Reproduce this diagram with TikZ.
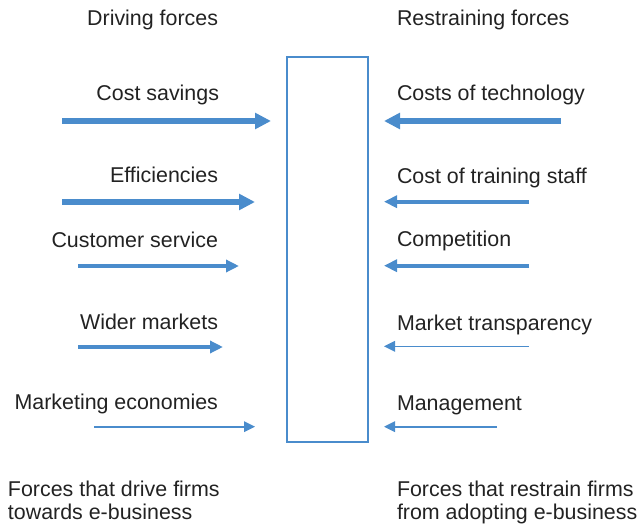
\documentclass[tikz,border=0pt]{standalone}
\usepackage{fontspec}
\setmainfont{Liberation Sans}
\usetikzlibrary{arrows.meta}
\definecolor{forceblue}{RGB}{74,140,204}
\definecolor{textgray}{RGB}{34,34,34}
\begin{document}
\begin{tikzpicture}[x=1pt,y=-1pt,
  every node/.style={font=\fontsize{21.4}{22.7}\selectfont, text=textgray, inner sep=0pt, outer sep=0pt},
  lefttext/.style={anchor=base east},
  righttext/.style={anchor=base west},
  barrier/.style={draw=forceblue, line width=2pt, minimum width=81.6pt, minimum height=385.6pt},
  thickforce/.style={draw=forceblue, line width=5.2pt, -{Triangle[length=16pt,width=15.5pt]}},
  midforce/.style={draw=forceblue, line width=4pt, -{Triangle[length=13pt,width=12pt]}},
  thinforce/.style={draw=forceblue, line width=1.6pt, -{Triangle[length=11pt,width=10.5pt]}},
  slimforce/.style={draw=forceblue, line width=2pt, -{Triangle[length=11pt,width=10.5pt]}}
]
\useasboundingbox (0,0) rectangle (638,524);

% headings
\node[lefttext] (drv) at (218,26) {Driving forces};
\node[righttext] (rst) at (397,26) {Restraining forces};

% barrier
\node[barrier] (field) at (327.5,249.5) {};

% driving forces
\node[lefttext] (l1) at (219,101) {Cost savings};
\node[lefttext] (l2) at (218,182.7) {Efficiencies};
\node[lefttext] (l3) at (218,247.7) {Customer service};
\node[lefttext] (l4) at (218,329) {Wider markets};
\node[lefttext] (l5) at (218,409.3) {Marketing economies};

\coordinate (a1s) at (62,121);   \coordinate (a1e) at (271,121);
\coordinate (a2s) at (62,202);   \coordinate (a2e) at (255,202);
\coordinate (a3s) at (78,266);   \coordinate (a3e) at (239,266);
\coordinate (a4s) at (78,347);   \coordinate (a4e) at (223,347);
\coordinate (a5s) at (94,426.7); \coordinate (a5e) at (255,426.7);
\draw[thickforce] (a1s) -- (a1e);
\draw[thickforce] (a2s) -- (a2e);
\draw[midforce] (a3s) -- (a3e);
\draw[midforce] (a4s) -- (a4e);
\draw[thinforce] (a5s) -- (a5e);

% restraining forces
\node[righttext] (r1) at (397,101) {Costs of technology};
\node[righttext] (r2) at (397,183.3) {Cost of training staff};
\node[righttext] (r3) at (397,246.7) {Competition};
\node[righttext] (r4) at (397,330) {Market transparency};
\node[righttext] (r5) at (397,410) {Management};

\coordinate (b1s) at (561,121);   \coordinate (b1e) at (384,121);
\coordinate (b2s) at (529,201.7); \coordinate (b2e) at (384,201.7);
\coordinate (b3s) at (529,265.7); \coordinate (b3e) at (384,265.7);
\coordinate (b4s) at (529,346.3); \coordinate (b4e) at (384,346.3);
\coordinate (b5s) at (497,426.7); \coordinate (b5e) at (384,426.7);
\draw[thickforce] (b1s) -- (b1e);
\draw[midforce] (b2s) -- (b2e);
\draw[midforce] (b3s) -- (b3e);
\draw[thinforce] (b4s) -- (b4e);
\draw[slimforce] (b5s) -- (b5e);

% footers (base anchor is the last line's baseline)
\node[anchor=base west, align=left] (fl) at (8,519.4) {Forces that drive firms\\towards e-business};
\node[anchor=base west, align=left] (fr) at (397,519.4) {Forces that restrain firms\\from adopting e-business};
\end{tikzpicture}
\end{document}
